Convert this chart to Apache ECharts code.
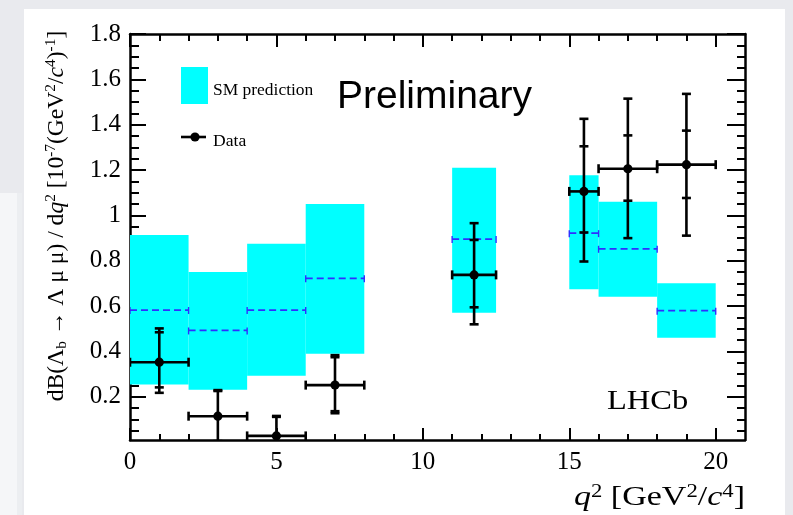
<!DOCTYPE html>
<html>
<head>
<meta charset="utf-8">
<script src="https://cdn.jsdelivr.net/npm/echarts@6/dist/echarts.min.js"></script>
<style>
  html, body { margin: 0; padding: 0; background: #e9eaee; }
  #chart { width: 793px; height: 515px; }
</style>
</head>
<body>
<div id="chart"></div>
<script>
// q^2 bins [GeV^2/c^4]
const qLow  = [0, 2, 4, 6, 11, 15, 16, 18];
const qHigh = [2, 4, 6, 8, 12.5, 16, 18, 20];

// SM prediction band (low / high edge) and central value per bin
const smLow     = [0.255, 0.231, 0.293, 0.390, 0.571, 0.675, 0.642, 0.461];
const smHigh    = [0.914, 0.751, 0.875, 1.051, 1.210, 1.177, 1.060, 0.701];
const smCentral = [0.583, 0.493, 0.583, 0.723, 0.896, 0.922, 0.853, 0.580];

// Measured differential branching fraction, 10^-7 (GeV^2/c^4)^-1
const dataX     = [1, 3, 5, 7, 11.75, 15.5, 17, 19];
const dataY     = [0.353, 0.115, 0.028, 0.252, 0.738, 1.106, 1.206, 1.224];
const statLow   = [0.242, 0.005, 0.000, 0.137, 0.595, 0.925, 1.065, 1.077];
const statHigh  = [0.485, 0.226, 0.112, 0.375, 0.892, 1.305, 1.353, 1.374];
const totLow    = [0.218, 0.000, 0.000, 0.128, 0.520, 0.797, 0.900, 0.911];
const totHigh   = [0.502, 0.230, 0.116, 0.384, 0.966, 1.426, 1.515, 1.536];

// Axis ticks
const xMajor = [0, 5, 10, 15, 20];
const xMinor = [1, 2, 3, 4, 6, 7, 8, 9, 11, 12, 13, 14, 16, 17, 18, 19];
const yMajor = [0.2, 0.4, 0.6, 0.8, 1, 1.2, 1.4, 1.6, 1.8];
const yMinor = [0.05, 0.1, 0.15, 0.25, 0.3, 0.35, 0.45, 0.5, 0.55, 0.65, 0.7, 0.75,
                0.85, 0.9, 0.95, 1.05, 1.1, 1.15, 1.25, 1.3, 1.35, 1.45, 1.5, 1.55,
                1.65, 1.7, 1.75];

const SERIF = '"Liberation Serif", "Times New Roman", serif';
const SANS = '"Liberation Sans", Arial, sans-serif';
const X_MIN = 0, X_MAX = 21, Y_MIN = 0.01, Y_MAX = 1.8;

function xAxisDef(position, ticks, len, withLabels, withLine) {
  return {
    type: 'value', position: position, min: X_MIN, max: X_MAX,
    axisLine: { show: withLine, onZero: false, lineStyle: { color: '#000', width: 2.5 } },
    axisTick: { show: true, inside: true, length: len, customValues: ticks,
                lineStyle: { color: '#000', width: 2 } },
    axisLabel: withLabels
      ? { show: true, customValues: xMajor, margin: 10, color: '#000',
          fontFamily: SERIF, fontSize: 25 }
      : { show: false },
    splitLine: { show: false }
  };
}
function yAxisDef(position, ticks, len, withLabels, withLine) {
  return {
    type: 'value', position: position, min: Y_MIN, max: Y_MAX,
    axisLine: { show: withLine, onZero: false, lineStyle: { color: '#000', width: 2.5 } },
    axisTick: { show: true, inside: true, length: len, customValues: ticks,
                lineStyle: { color: '#000', width: 2 } },
    axisLabel: withLabels
      ? { show: true, customValues: yMajor, margin: 9, color: '#000',
          fontFamily: SERIF, fontSize: 25, formatter: v => String(v) }
      : { show: false },
    splitLine: { show: false }
  };
}

const bandData = qLow.map((lo, i) => [lo, qHigh[i], smLow[i], smHigh[i]]);
const centralData = qLow.map((lo, i) => [lo, qHigh[i], smCentral[i]]);
const pointData = dataX.map((x, i) =>
  [x, dataY[i], qLow[i], qHigh[i], statLow[i], statHigh[i], totLow[i], totHigh[i]]);

function renderBand(params, api) {
  const tl = api.coord([api.value(0), api.value(3)]);
  const br = api.coord([api.value(1), api.value(2)]);
  return {
    type: 'rect',
    shape: { x: tl[0], y: tl[1], width: br[0] - tl[0], height: br[1] - tl[1] },
    style: { fill: '#00ffff' }
  };
}

function renderCentral(params, api) {
  const a = api.coord([api.value(0), api.value(2)]);
  const b = api.coord([api.value(1), api.value(2)]);
  const st = { stroke: '#2f2fff', lineWidth: 1.7, lineDash: [7, 4] };
  const tick = { stroke: '#2f2fff', lineWidth: 1.4 };
  return {
    type: 'group',
    children: [
      { type: 'line', shape: { x1: a[0], y1: a[1], x2: b[0], y2: b[1] }, style: st },
      { type: 'line', shape: { x1: a[0], y1: a[1] - 3, x2: a[0], y2: a[1] + 4 }, style: tick },
      { type: 'line', shape: { x1: b[0], y1: b[1] - 3, x2: b[0], y2: b[1] + 4 }, style: tick }
    ]
  };
}

function renderPoint(params, api) {
  const x = api.value(0), y = api.value(1);
  const c = api.coord([x, y]);
  const xl = api.coord([api.value(2), y])[0];
  const xh = api.coord([api.value(3), y])[0];
  const sLo = api.coord([x, api.value(4)])[1];
  const sHi = api.coord([x, api.value(5)])[1];
  const tLo = api.coord([x, api.value(6)])[1];
  const tHi = api.coord([x, api.value(7)])[1];
  const st = { stroke: '#000', lineWidth: 2.6 };
  const cap = 4.5;
  const seg = (x1, y1, x2, y2) => ({ type: 'line', shape: { x1, y1, x2, y2 }, style: st });
  return {
    type: 'group',
    children: [
      seg(xl, c[1], xh, c[1]),
      seg(xl, c[1] - cap, xl, c[1] + cap),
      seg(xh, c[1] - cap, xh, c[1] + cap),
      seg(c[0], tLo, c[0], tHi),
      seg(c[0] - cap, tHi, c[0] + cap, tHi),
      seg(c[0] - cap, tLo, c[0] + cap, tLo),
      seg(c[0] - cap, sHi, c[0] + cap, sHi),
      seg(c[0] - cap, sLo, c[0] + cap, sLo),
      { type: 'circle', shape: { cx: c[0], cy: c[1], r: 4.6 }, style: { fill: '#000' } }
    ]
  };
}

const chart = echarts.init(document.getElementById('chart'), null, { renderer: 'canvas' });

chart.setOption({
  backgroundColor: 'transparent',
  animation: false,
  grid: { left: 130, right: 48, top: 34, bottom: 75, containLabel: false },
  xAxis: [
    xAxisDef('bottom', xMajor, 12, true, true),
    xAxisDef('bottom', xMinor, 6, false, false),
    xAxisDef('top', xMajor, 13, false, true),
    xAxisDef('top', xMinor, 7, false, false)
  ],
  yAxis: [
    yAxisDef('left', yMajor, 16, true, true),
    yAxisDef('left', yMinor, 9, false, false),
    yAxisDef('right', yMajor, 18, false, true),
    yAxisDef('right', yMinor, 8, false, false)
  ],
  graphic: [
    // page backdrop
    { type: 'rect', z: -100, silent: true, shape: { x: 24, y: 9, width: 761, height: 506 },
      style: { fill: '#ffffff' } },
    { type: 'rect', z: -100, silent: true, shape: { x: 0, y: 193, width: 17, height: 322 },
      style: { fill: '#f5f6f8' } },
    { type: 'rect', z: -100, silent: true, shape: { x: 17, y: 193, width: 5, height: 322 },
      style: { fill: '#eceef1' } },
    // legend
    { type: 'rect', shape: { x: 181, y: 67, width: 27, height: 37 }, style: { fill: '#00ffff' } },
    { type: 'text', x: 213, y: 91, scaleX: 1.09, style: { text: 'SM prediction', fontFamily: SERIF,
      fontSize: 16, fill: '#000', align: 'left', verticalAlign: 'middle' } },
    { type: 'line', shape: { x1: 181, y1: 137, x2: 206, y2: 137 }, style: { stroke: '#000', lineWidth: 2.6 } },
    { type: 'circle', shape: { cx: 195, cy: 137, r: 4.6 }, style: { fill: '#000' } },
    { type: 'text', x: 213, y: 142, scaleX: 1.1, style: { text: 'Data', fontFamily: SERIF, fontSize: 16,
      fill: '#000', align: 'left', verticalAlign: 'middle' } },
    // annotations
    { type: 'text', x: 337, y: 97, style: { text: 'Preliminary', fontFamily: SANS, fontSize: 39,
      fill: '#000', align: 'left', verticalAlign: 'middle' } },
    { type: 'text', x: 607, y: 402, scaleX: 1.16, style: { text: 'LHCb', fontFamily: SERIF, fontSize: 28,
      fill: '#000', align: 'left', verticalAlign: 'middle' } },
    // x-axis title
    { type: 'text', x: 745, y: 498, scaleX: 1.26, style: {
      text: '{i|q}{sup|2}{m| [GeV}{sup|2}{m|/}{i|c}{sup|4}{m|]}',
      align: 'right', verticalAlign: 'middle',
      rich: {
        m: { fontFamily: SERIF, fontSize: 27, lineHeight: 30, fill: '#000' },
        i: { fontFamily: SERIF, fontSize: 27, fontStyle: 'italic', lineHeight: 30, fill: '#000' },
        sup: { fontFamily: SERIF, fontSize: 18, verticalAlign: 'top', fill: '#000' }
      } } },
    // y-axis title
    { type: 'text', x: 57, y: 216, rotation: Math.PI / 2, scaleX: 1.025, style: {
      text: '{m|dB(Λ}{sub|b}{m| → Λ μ μ) / d}{i|q}{sup|2}{m| [10}{sup|-7}{m|(GeV}{sup|2}{m|/}{i|c}{sup|4}{m|)}{sup|-1}{m|]}',
      align: 'center', verticalAlign: 'middle',
      rich: {
        m: { fontFamily: SERIF, fontSize: 23, lineHeight: 26, fill: '#000' },
        i: { fontFamily: SERIF, fontSize: 23, fontStyle: 'italic', lineHeight: 26, fill: '#000' },
        sup: { fontFamily: SERIF, fontSize: 15, verticalAlign: 'top', fill: '#000' },
        sub: { fontFamily: SERIF, fontSize: 15, verticalAlign: 'bottom', fill: '#000' }
      } } }
  ],
  series: [
    { type: 'custom', name: 'SM prediction', xAxisIndex: 0, yAxisIndex: 0, clip: true,
      renderItem: renderBand, data: bandData, encode: { x: [0, 1], y: [2, 3] }, z: 2 },
    { type: 'custom', name: 'SM central', xAxisIndex: 0, yAxisIndex: 0, clip: true,
      renderItem: renderCentral, data: centralData, encode: { x: [0, 1], y: 2 }, z: 3 },
    { type: 'custom', name: 'Data', xAxisIndex: 0, yAxisIndex: 0, clip: true,
      renderItem: renderPoint, data: pointData, encode: { x: [0, 2, 3], y: [1, 6, 7] }, z: 4 }
  ]
});
</script>
</body>
</html>
